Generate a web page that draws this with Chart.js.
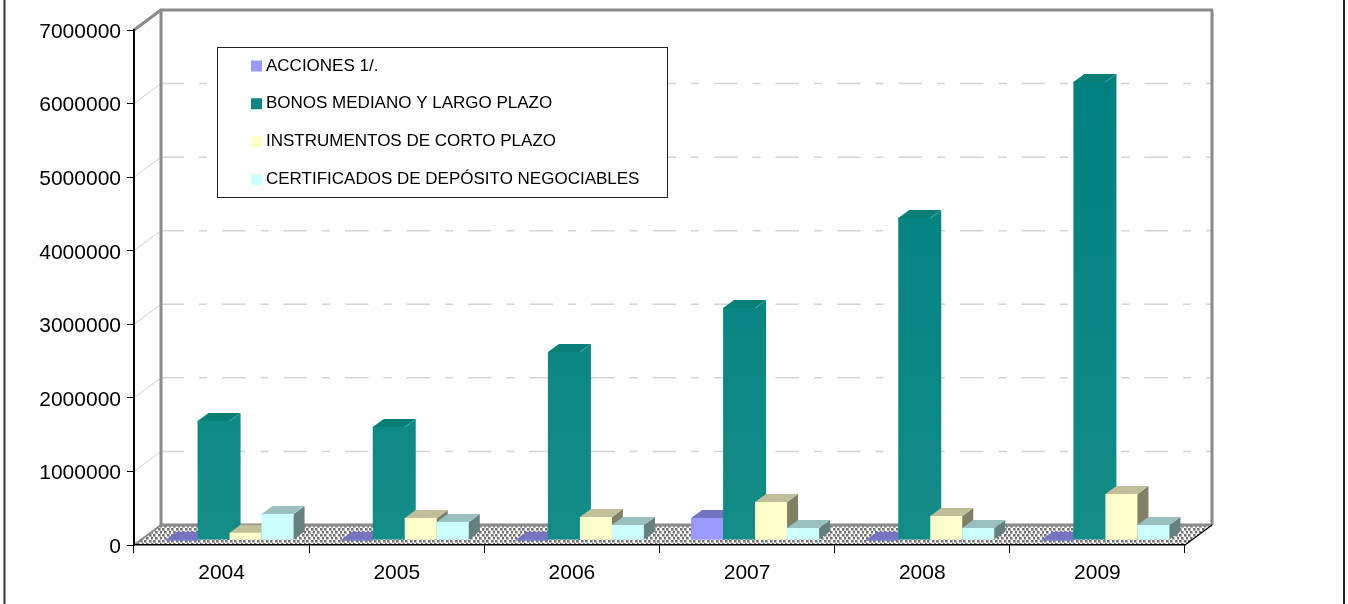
<!DOCTYPE html>
<html>
<head>
<meta charset="utf-8">
<title>Chart</title>
<script src="https://cdn.jsdelivr.net/npm/chart.js@4"></script>
<style>
	html, body { margin: 0; padding: 0; background: #fff; }
	#box { position: relative; width: 1348px; height: 604px; }
</style>
</head>
<body>
<div id="box"><canvas id="myChart" width="1348" height="604"></canvas></div>
<script>
	let years = ['2004', '2005', '2006', '2007', '2008', '2009'];
	let seriesNames = ['ACCIONES 1/.', 'BONOS MEDIANO Y LARGO PLAZO', 'INSTRUMENTOS DE CORTO PLAZO', 'CERTIFICADOS DE DEPÓSITO NEGOCIABLES'];
	let acciones = [5000, 5000, 5000, 300000, 5000, 5000];
	let bonos = [1617000, 1536000, 2555000, 3153000, 4377000, 6225000];
	let instrumentos = [100000, 300000, 313000, 517000, 326000, 625000];
	let certificados = [353000, 245000, 204000, 163000, 163000, 204000];

	let frontColors = ['#9999ff', '#0a8682', '#ffffcc', '#ccffff'];
	let topColors = ['#7373bf', '#0a7f78', '#bfbf99', '#99bfbf'];
	let sideColors = ['#5f5f9f', '#0a8682', '#808066', '#668080'];

	//смещения псевдо-3D
	const wallX = 27, wallY = -20;   //задняя стенка относительно осей
	const barX = 8, barY = -5;       //столбики относительно осей
	const depthX = 11, depthY = -8;  //глубина столбика

	//точечная заливка пола
	function floorPattern(ctx) {
		let tile = document.createElement('canvas');
		tile.width = 9;
		tile.height = 6;
		let t = tile.getContext('2d');
		t.fillStyle = '#ffffff';
		t.fillRect(0, 0, 9, 6);
		[[0, 0], [5, 0], [2, 3], [7, 3]].forEach(function (d) {
			t.fillStyle = '#b4b4b4';
			t.fillRect(d[0], d[1], 3, 3);
			t.fillStyle = '#707070';
			t.fillRect(d[0], d[1], 2, 2);
		});
		return ctx.createPattern(tile, 'repeat');
	}

	function polygon(ctx, pts, color) {
		ctx.fillStyle = color;
		ctx.beginPath();
		pts.forEach(function (p, i) {
			if (i == 0) ctx.moveTo(p[0], p[1]);
			else ctx.lineTo(p[0], p[1]);
		});
		ctx.closePath();
		ctx.fill();
	}

	function line(ctx, x1, y1, x2, y2, color, width) {
		ctx.strokeStyle = color;
		ctx.lineWidth = width;
		ctx.beginPath();
		ctx.moveTo(x1, y1);
		ctx.lineTo(x2, y2);
		ctx.stroke();
	}

	//стенки, пол, сетка, рамка легенды, столбики
	let wallsPlugin = {
		id: 'walls',
		afterLayout: function (chart) {
			let legend = chart.legend;
			legend.left = 234.7;
			legend.right = 700;
			legend.top = 36.7;
			legend.bottom = 220;
			legend.width = legend.right - legend.left;
			legend.height = legend.bottom - legend.top;
		},
		beforeDraw: function (chart) {
			let ctx = chart.ctx;
			let area = chart.chartArea;
			let yScale = chart.scales.y;

			//подписи оси Y чуть ниже, по центру засечек
			yScale.getLabelItems(area).forEach(function (item, i) {
				item.options.translation[1] = yScale.getPixelForTick(i) + 2;
			});

			ctx.save();

			//рамка всего рисунка: только слева и справа
			line(ctx, 4.5, 0, 4.5, 604, '#333333', 2);
			line(ctx, 1344, 0, 1344, 604, '#222222', 2);

			let backLeft = area.left + wallX, backRight = area.right + wallX;
			let backBottom = area.bottom + wallY, backTop = area.top + wallY;

			//сетка
			yScale.ticks.forEach(function (tick) {
				if (tick.value == 0 || tick.value == yScale.max) return;
				let y = yScale.getPixelForValue(tick.value);
				line(ctx, area.left, y, backLeft, y + wallY, '#cfcfcf', 1);
				ctx.setLineDash([23.5, 15, 8, 15]);
				ctx.lineDashOffset = 0.5;
				line(ctx, backLeft, y + wallY, backRight, y + wallY, '#d4d4d4', 1.5);
				ctx.setLineDash([]);
			});

			//пол
			polygon(ctx, [[area.left, area.bottom], [backLeft, backBottom], [backRight, backBottom], [area.right, area.bottom]], floorPattern(ctx));

			//стенки
			line(ctx, backLeft, backBottom, backLeft, backTop, '#8a8a8a', 3);
			line(ctx, backLeft - 1, backTop, backRight + 1, backTop, '#8a8a8a', 3);
			line(ctx, backRight, backTop, backRight, backBottom, '#8a8a8a', 3);
			line(ctx, backLeft, backBottom, backRight, backBottom, '#8a8a8a', 3);
			line(ctx, area.left, area.top, backLeft, backTop, '#8a8a8a', 3);
			line(ctx, area.left, area.bottom, backLeft, backBottom, '#8a8a8a', 2);
			line(ctx, area.right, area.bottom, backRight, backBottom, '#000000', 1.2);

			//рамка легенды
			ctx.fillStyle = '#ffffff';
			ctx.fillRect(217.5, 47.5, 450, 150);
			ctx.strokeStyle = '#222222';
			ctx.lineWidth = 1;
			ctx.strokeRect(217.5, 47.5, 450, 150);
			ctx.restore();
		},
		//обычный порядок рисует первую серию сверху, а нужно наоборот
		beforeDatasetDraw: function () {
			return false;
		},
		afterDatasetsDraw: function (chart) {
			let ctx = chart.ctx;
			chart.data.datasets.forEach(function (dataset, i) {
				let meta = chart.getDatasetMeta(i);
				let side = i == 1 ? dataset.backgroundColor : sideColors[i];
				ctx.save();
				ctx.translate(barX, barY);
				meta.data.forEach(function (bar) {
					let p = bar.getProps(['x', 'y', 'base', 'width'], true);
					let x0 = p.x - p.width / 2, x1 = p.x + p.width / 2;
					polygon(ctx, [[x1 - 1, p.y + 1], [x1 + depthX, p.y + depthY], [x1 + depthX, p.base + depthY], [x1, p.base], [x1 - 1, p.base]], side);
					polygon(ctx, [[x0, p.y + 1], [x0, p.y], [x0 + depthX, p.y + depthY], [x1 + depthX, p.y + depthY], [x1, p.y], [x1, p.y + 1]], topColors[i]);
				});
				meta.controller.draw();
				ctx.restore();
			});
		}
	};

	let ctx = document.getElementById('myChart').getContext('2d');

	//бирюзовые столбики чуть светлеют книзу
	let tealFill = ctx.createLinearGradient(0, 70, 0, 540);
	tealFill.addColorStop(0, '#008080');
	tealFill.addColorStop(1, '#128c87');

	function makeDataset(index, values) {
		return {
			label: seriesNames[index],
			data: values,
			backgroundColor: index == 1 ? tealFill : frontColors[index],
			borderWidth: 0,
			inflateAmount: 0
		};
	}

	let myChart = new Chart(ctx, {
		type: 'bar',
		data: {
			labels: years,
			datasets: [
				makeDataset(0, acciones),
				makeDataset(1, bonos),
				makeDataset(2, instrumentos),
				makeDataset(3, certificados)
			]
		},
		plugins: [wallsPlugin],
		options: {
			responsive: false,
			animation: false,
			layout: { padding: { left: 0, top: 30, right: 163, bottom: 0 } },
			datasets: { bar: { categoryPercentage: 0.7307, barPercentage: 1 } },
			plugins: {
				title: { display: false },
				tooltip: { enabled: false },
				legend: {
					display: true,
					position: 'chartArea',
					align: 'start',
					labels: {
						color: '#000000',
						font: { family: '"Liberation Sans", Arial, sans-serif', size: 17 },
						boxWidth: 2,
						boxHeight: 2,
						padding: 20.8,
						generateLabels: function (chart) {
							return chart.data.datasets.map(function (d, i) {
								return { text: d.label, fillStyle: frontColors[i], strokeStyle: frontColors[i], lineWidth: 9, datasetIndex: i };
							});
						}
					}
				}
			},
			scales: {
				x: {
					afterFit: function (scale) { scale.height = 59; },
					grid: { offset: true, drawOnChartArea: false, drawTicks: true, tickLength: 8, tickColor: '#000000', tickWidth: 1 },
					border: { display: true, color: '#000000', width: 1.5 },
					ticks: { color: '#000000', padding: 8, maxRotation: 0, font: { family: '"Liberation Sans", Arial, sans-serif', size: 21 } }
				},
				y: {
					min: 0,
					max: 7000000,
					afterFit: function (scale) { scale.width = 134; },
					grid: { drawOnChartArea: false, drawTicks: true, tickLength: 7, tickColor: '#000000', tickWidth: 1 },
					border: { display: true, color: '#000000', width: 2 },
					ticks: {
						stepSize: 1000000,
						color: '#000000',
						padding: 6,
						font: { family: '"Liberation Sans", Arial, sans-serif', size: 21 },
						callback: function (value) { return String(value); }
					}
				}
			}
		}
	});
</script>
</body>
</html>
